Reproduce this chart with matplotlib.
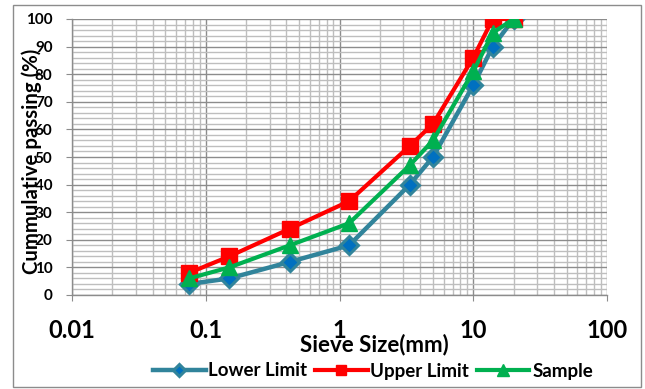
import matplotlib
matplotlib.use("Agg")
import matplotlib.pyplot as plt
from matplotlib.ticker import LogLocator, MultipleLocator, FixedLocator, FixedFormatter
from matplotlib.patches import Rectangle

# ---- data ----
sieve_mm = [0.075, 0.15, 0.425, 1.18, 3.35, 5, 10, 14, 20]
lower_limit = [4, 6, 12, 18, 40, 50, 76, 90, 100]
upper_limit = [8, 14, 24, 34, 54, 62, 86, 100, 100]
sample = [6, 10, 18, 26, 47, 56, 81, 95, 100]
x_ticks = [0.01, 0.1, 1, 10, 100]
x_tick_labels = ["0.01", "0.1", "1", "10", "100"]
y_ticks = [0, 10, 20, 30, 40, 50, 60, 70, 80, 90, 100]

plt.rcParams['font.family'] = ['Lato', 'DejaVu Sans']
plt.rcParams['font.weight'] = 'bold'

W, H = 645, 389
fig = plt.figure(figsize=(W / 100, H / 100), dpi=100)
L, R, T, B = 72, 607, 19, 295
ax = fig.add_axes([L / W, 1 - B / H, (R - L) / W, (B - T) / H])

ax.set_xscale('log')
ax.set_xlim(0.01, 100)
ax.set_ylim(0, 100)

# grid
ax.xaxis.set_major_locator(FixedLocator(x_ticks))
ax.xaxis.set_major_formatter(FixedFormatter(x_tick_labels))
ax.xaxis.set_minor_locator(LogLocator(base=10, subs=range(2, 10)))
ax.xaxis.set_minor_formatter(FixedFormatter([]))
ax.yaxis.set_major_locator(FixedLocator(y_ticks))
ax.yaxis.set_minor_locator(MultipleLocator(2))
ax.grid(which='major', color='#8C8C8C', linewidth=1.0)
ax.grid(which='minor', color='#BEBEBE', linewidth=1.0)
ax.set_axisbelow(True)

for s in ['top', 'right']:
    ax.spines[s].set_visible(False)
for s in ['left', 'bottom']:
    ax.spines[s].set_color('#8C8C8C')
    ax.spines[s].set_linewidth(1.0)

ax.tick_params(axis='y', which='major', length=4, color='#8C8C8C', pad=10, labelsize=11)
ax.tick_params(axis='y', which='minor', length=0)
ax.tick_params(axis='x', which='major', length=4, color='#8C8C8C', pad=13, labelsize=17)
ax.tick_params(axis='x', which='minor', length=0)

ax.plot(sieve_mm, lower_limit, color='#31849B', linewidth=3.2, marker='D',
        markersize=9, markerfacecolor='#0070C0', markeredgecolor='#31849B',
        markeredgewidth=2.2, label='Lower Limit', zorder=3)
ax.plot(sieve_mm, upper_limit, color='#FF0000', linewidth=3.0, marker='s',
        markersize=11, markerfacecolor='#FF0000', markeredgecolor='#FF0000',
        label='Upper Limit', zorder=4)
ax.plot(sieve_mm, sample, color='#00B050', linewidth=3.0, marker='^',
        markersize=12, markerfacecolor='#00B050', markeredgecolor='#00B050',
        label='Sample', zorder=5)

fig.text(32 / W, 1 - 161 / H, 'Cummulative passing (%)', fontsize=14.7, fontweight='bold',
         rotation=90, ha='center', va='center')

fig.text(374 / W, 1 - 345 / H, 'Sieve Size(mm)', fontsize=16, fontweight='bold',
         ha='center', va='center')

leg = fig.legend(loc='center', bbox_to_anchor=(373 / W, 1 - 371 / H), ncol=3,
                 frameon=False, fontsize=13.5, handlelength=2.8, handletextpad=0.15,
                 columnspacing=0.4, markerscale=0.7, borderpad=0)

fig.add_artist(Rectangle((13 / W, 1 - 387 / H), (641 - 13) / W, (387 - 5) / H,
                         transform=fig.transFigure, fill=False,
                         edgecolor='#8C8C8C', linewidth=1.0))

fig.savefig('out.png', dpi=100)
